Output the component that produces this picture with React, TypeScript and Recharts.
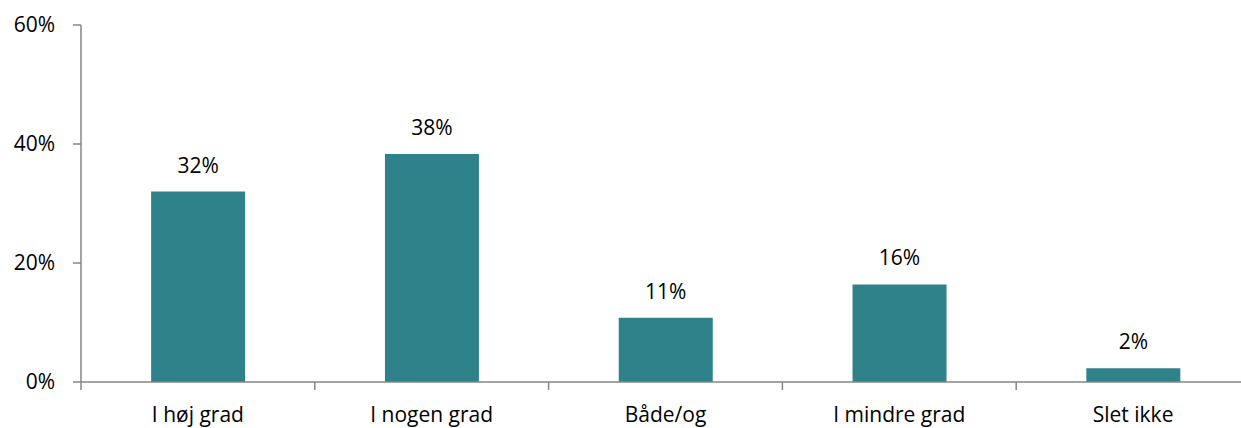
import React from "react";
import { BarChart, Bar, XAxis, YAxis, LabelList } from "recharts";

const kategorier = ["I høj grad", "I nogen grad", "Både/og", "I mindre grad", "Slet ikke"];
const andele = [32.0, 38.3, 10.8, 16.4, 2.3];
const yTicks = [0, 20, 40, 60];

const data = kategorier.map((k, i) => ({ kategori: k, andel: andele[i] }));

const FONT = "'Open Sans', sans-serif";
const AXIS = "#868686";
const BAR = "#2F8289";

const CHART_W = 1250;
const Y_W = 81;
const BAND = (CHART_W - Y_W) / kategorier.length;

// Excel-style: tick mark on the left edge of each category, label centred
const KategoriTick = (props: any) => {
  const { x, y, payload } = props;
  const left = x - BAND / 2;
  const base = y - 8; // recharts pushes the tick down by tickSize + tickMargin
  return (
    <g>
      <line x1={left} y1={base} x2={left} y2={base + 8} stroke={AXIS} strokeWidth={1.5} />
      <text x={x} y={base + 40} textAnchor="middle" fill="#000" fontSize={21} fontFamily={FONT}>
        {payload.value}
      </text>
    </g>
  );
};

export default function App() {
  return (
    <div
      style={{
        position: "absolute",
        left: 0,
        top: 0,
        width: 1241,
        height: 428,
        overflow: "hidden",
        background: "#fff",
      }}
    >
      <BarChart
        width={CHART_W}
        height={428}
        data={data}
        margin={{ top: 25, right: 0, left: 0, bottom: 0 }}
        barCategoryGap="30%"
      >
        <XAxis
          dataKey="kategori"
          axisLine={{ stroke: AXIS, strokeWidth: 1.5 }}
          tickLine={false}
          tickSize={6}
          tickMargin={2}
          tick={<KategoriTick />}
          interval={0}
          height={46}
        />
        <YAxis
          domain={[0, 60]}
          ticks={yTicks}
          tickFormatter={(v) => `${v}%`}
          axisLine={{ stroke: AXIS, strokeWidth: 1.5 }}
          tickLine={{ stroke: AXIS, strokeWidth: 1.5 }}
          tickSize={8}
          tickMargin={18}
          width={Y_W}
          tick={{ fill: "#000", fontSize: 21, fontFamily: FONT }}
        />
        <Bar dataKey="andel" fill={BAR} isAnimationActive={false}>
          <LabelList
            dataKey="andel"
            position="top"
            offset={19}
            formatter={(v: any) => `${Math.round(Number(v))}%`}
            style={{ fill: "#000", fontSize: 21, fontFamily: FONT }}
          />
        </Bar>
      </BarChart>
    </div>
  );
}
